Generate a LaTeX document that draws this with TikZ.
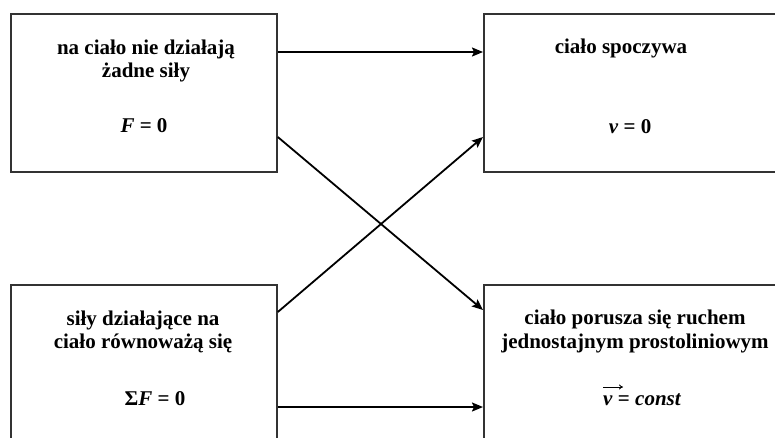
\documentclass[tikz,border=0pt]{standalone}
\usepackage{fontspec}
\setmainfont{Liberation Serif}
\usetikzlibrary{arrows.meta}
\definecolor{boxline}{HTML}{333333}
\tikzset{
  box/.style={draw=boxline, line width=1.8pt, fill=white, minimum width=266pt, minimum height=158pt, anchor=north west, inner sep=0pt},
  bigbox/.style={box, minimum width=310pt},
  txt/.style={font=\fontsize{21}{23}\selectfont\bfseries, anchor=base, inner sep=0pt},
  arr/.style={draw=black, line width=1.8pt, -{Stealth[length=11pt,width=9pt,inset=2pt]}},
  vecarr/.style={draw=black, line width=0.9pt, -{To[length=4pt,width=5pt]}}
}
\begin{document}
\begin{tikzpicture}[x=1pt,y=-1pt]
\useasboundingbox (0,0) rectangle (775,437);
\clip (0,0) rectangle (775,437);
\fill[white] (0,0) rectangle (775,437);
\node[box] (tl) at (10,13) {};
\node[bigbox] (tr) at (483,13) {};
\node[box] (bl) at (10,284) {};
\node[bigbox] (br) at (483,284) {};

\node[txt] (tl1) at (146,54) {na ciało nie działają};
\node[txt] (tl1b) at (146,77) {żadne siły};
\node[txt] (tl2) at (144,132) {\textit{F} = 0};
\node[txt] (tr1) at (621,53) {ciało spoczywa};
\node[txt] (tr2) at (630,133) {\textit{v} = 0};
\node[txt] (bl1) at (143,325) {siły działające na};
\node[txt] (bl1b) at (143,348) {ciało równoważą się};
\node[txt] (bl2) at (155,405) {Σ\textit{F} = 0};
\node[txt] (br1) at (635,324) {ciało porusza się ruchem};
\node[txt] (br1b) at (635,348) {jednostajnym prostoliniowym};
\node[txt, anchor=base west] (br2) at (603,405) {\textit{v} = \textit{const}};

\draw[arr] ([yshift=-39pt]tl.north east) -- ([yshift=-39pt]tr.north west);
\draw[arr] ([yshift=-124pt]tl.north east) -- ([yshift=-26pt]br.north west);
\draw[arr] ([yshift=-28pt]bl.north east) -- ([yshift=-124pt]tr.north west);
\draw[arr] ([yshift=-123pt]bl.north east) -- ([yshift=-123pt]br.north west);
\draw[vecarr] (br2.base west) ++(0,-18) -- ++(20,0);
\end{tikzpicture}
\end{document}
